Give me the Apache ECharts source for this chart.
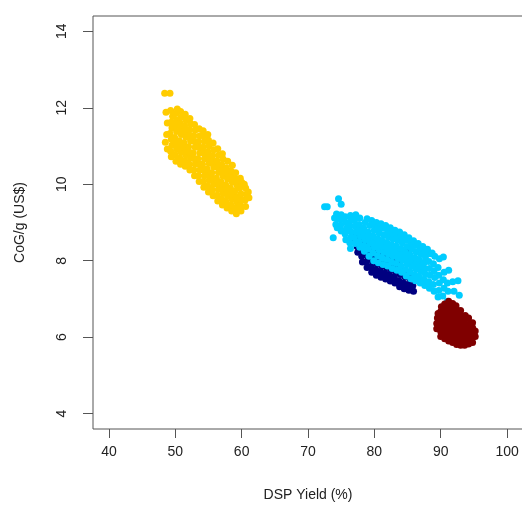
<!DOCTYPE html>
<html><head><meta charset="utf-8">
<script src="https://cdn.jsdelivr.net/npm/echarts@6/dist/echarts.min.js"></script>
<style>html,body{margin:0;padding:0;background:#fff;overflow:hidden}#c{width:532px;height:513px}</style>
</head><body><div id="c"></div>
<script>
const xTicks = [40, 50, 60, 70, 80, 90, 100];
const yTicks = [4, 6, 8, 10, 12, 14];
const xTitle = 'DSP Yield (%)';
const yTitle = 'CoG/g (US$)';

const yellowPts = [
[48.4,12.38],[49.2,12.38],
[48.6,11.88],[48.8,11.6],[48.7,11.3],[48.5,11.1],[48.8,10.92],
[49.4,10.72],[49.3,10.86],[49.5,11.02],[49.4,11.18],[49.2,11.33],[49.5,11.47],[49.4,11.62],[49.6,11.78],[49.3,11.93],
[50.1,10.6],[50.0,10.77],[50.2,10.92],[50.1,11.07],[49.9,11.22],[50.2,11.38],[50.0,11.53],[50.2,11.68],[50.1,11.85],[50.3,11.97],
[50.8,10.52],[50.7,10.68],[50.9,10.83],[50.8,10.99],[50.6,11.14],[50.9,11.3],[50.8,11.45],[50.7,11.6],[50.9,11.75],[50.8,11.9],
[51.5,10.47],[51.4,10.62],[51.6,10.77],[51.5,10.93],[51.3,11.08],[51.6,11.23],[51.5,11.38],[51.4,11.53],[51.6,11.68],[51.5,11.83],
[52.2,10.37],[52.1,10.52],[52.3,10.68],[52.2,10.83],[52.0,10.98],[52.3,11.13],[52.2,11.28],[52.1,11.43],[52.3,11.58],[52.2,11.72],
[52.9,10.22],[52.8,10.37],[53.0,10.52],[52.9,10.67],[52.7,10.82],[53.0,10.97],[52.9,11.12],[52.8,11.27],[53.0,11.42],[52.9,11.56],
[53.6,10.07],[53.5,10.22],[53.7,10.37],[53.6,10.52],[53.4,10.67],[53.7,10.82],[53.6,10.97],[53.5,11.12],[53.7,11.27],[53.6,11.45],
[54.3,9.92],[54.2,10.07],[54.4,10.22],[54.3,10.37],[54.1,10.52],[54.4,10.67],[54.3,10.82],[54.2,10.97],[54.4,11.12],[54.3,11.27],[54.2,11.4],
[55.0,9.8],[54.9,9.95],[55.1,10.1],[55.0,10.25],[54.8,10.4],[55.1,10.55],[55.0,10.7],[54.9,10.85],[55.1,11.0],[55.0,11.15],[54.9,11.3],
[55.7,9.7],[55.6,9.85],[55.8,10.0],[55.7,10.15],[55.5,10.3],[55.8,10.45],[55.7,10.6],[55.6,10.75],[55.8,10.9],[55.7,11.08],
[56.4,9.56],[56.3,9.71],[56.5,9.86],[56.4,10.01],[56.2,10.16],[56.5,10.31],[56.4,10.46],[56.3,10.61],[56.5,10.76],[56.4,10.93],
[57.1,9.46],[57.0,9.61],[57.2,9.76],[57.1,9.91],[56.9,10.06],[57.2,10.21],[57.1,10.36],[57.0,10.51],[57.2,10.66],[57.1,10.8],
[57.8,9.38],[57.7,9.53],[57.9,9.68],[57.8,9.83],[57.6,9.98],[57.9,10.13],[57.8,10.28],[57.7,10.43],[57.9,10.6],
[58.5,9.3],[58.4,9.45],[58.6,9.6],[58.5,9.75],[58.3,9.9],[58.6,10.05],[58.5,10.2],[58.4,10.35],[58.6,10.5],
[59.2,9.23],[59.1,9.38],[59.3,9.53],[59.2,9.68],[59.0,9.83],[59.3,9.98],[59.2,10.13],[59.1,10.3],
[59.9,9.3],[59.8,9.45],[60.0,9.6],[59.9,9.75],[59.7,9.9],[60.0,10.05],[59.8,10.16],
[60.6,9.42],[60.5,9.58],[60.7,9.74],[60.6,9.9],[60.4,10.0],
[61.1,9.65],[61.0,9.8]
];

const navyPts = [
[76.8,8.55],[76.9,8.7],
[77.5,8.22],[77.4,8.37],[77.6,8.52],[77.5,8.67],
[78.2,7.97],[78.1,8.12],[78.3,8.27],[78.2,8.42],[78.1,8.57],
[78.9,7.82],[78.8,7.97],[79.0,8.12],[78.9,8.27],[78.8,8.42],[79.0,8.57],
[79.6,7.7],[79.5,7.85],[79.7,8.0],[79.6,8.15],[79.5,8.3],[79.7,8.45],
[80.3,7.62],[80.2,7.77],[80.4,7.92],[80.3,8.07],[80.2,8.22],[80.4,8.4],
[81.0,7.57],[80.9,7.72],[81.1,7.87],[81.0,8.02],[80.9,8.17],[81.1,8.35],
[81.7,7.52],[81.6,7.67],[81.8,7.82],[81.7,7.97],[81.6,8.12],[81.8,8.3],
[82.4,7.47],[82.3,7.62],[82.5,7.77],[82.4,7.95],[82.3,8.1],
[83.1,7.42],[83.0,7.57],[83.2,7.72],[83.1,7.9],[83.0,8.05],
[83.8,7.32],[83.7,7.48],[83.9,7.64],[83.8,7.8],[83.7,8.0],
[84.5,7.27],[84.4,7.42],[84.6,7.58],[84.5,7.75],
[85.2,7.23],[85.1,7.38],[85.3,7.54],[85.1,8.29],
[85.9,7.2],[85.8,7.35]
];

const cyanPts = [
[72.5,9.41],[72.9,9.41],[73.8,8.6],[74.0,9.12],[74.4,8.86],[74.6,9.62],[75.0,9.48],
[74.2,8.95],[74.4,9.1],[74.3,9.22],
[75.0,8.78],[74.9,8.93],[75.1,9.08],[75.0,9.2],
[75.7,8.55],[75.6,8.7],[75.8,8.85],[75.7,9.0],[75.6,9.15],
[76.4,8.32],[76.3,8.47],[76.5,8.62],[76.4,8.77],[76.3,8.92],[76.5,9.07],[76.4,9.18],
[77.1,8.45],[77.0,8.6],[77.2,8.75],[77.1,8.9],[77.0,9.05],[77.2,9.2],
[77.8,8.35],[77.7,8.5],[77.9,8.65],[77.8,8.8],[77.7,8.95],[77.8,9.12],
[78.5,8.25],[78.4,8.4],[78.6,8.55],[78.5,8.7],[78.4,8.85],[78.6,9.0],[78.9,9.1],
[79.2,8.12],[79.1,8.3],[79.3,8.45],[79.2,8.6],[79.1,8.75],[79.3,8.92],[79.6,9.05],
[79.9,8.0],[79.8,8.2],[80.0,8.35],[79.9,8.5],[79.8,8.65],[80.0,8.8],[79.9,8.95],[80.3,9.0],
[80.6,7.95],[80.5,8.13],[80.7,8.28],[80.6,8.43],[80.5,8.58],[80.7,8.73],[80.6,8.88],[81.0,8.97],
[81.3,7.9],[81.2,8.07],[81.4,8.22],[81.3,8.37],[81.2,8.52],[81.4,8.67],[81.3,8.85],[81.7,8.92],
[82.0,7.86],[81.9,8.03],[82.1,8.18],[82.0,8.33],[81.9,8.48],[82.1,8.63],[82.0,8.78],[82.4,8.86],
[82.7,7.8],[82.6,7.97],[82.8,8.12],[82.7,8.27],[82.6,8.42],[82.8,8.57],[82.7,8.72],[83.1,8.8],
[83.4,7.75],[83.3,7.93],[83.5,8.08],[83.4,8.23],[83.3,8.38],[83.5,8.53],[83.4,8.68],[83.8,8.75],
[84.1,7.7],[84.0,7.87],[84.2,8.02],[84.1,8.17],[84.0,8.32],[84.2,8.47],[84.1,8.62],[84.5,8.68],
[84.8,7.6],[84.7,7.77],[84.9,7.92],[84.8,8.07],[84.7,8.22],[84.9,8.37],[84.8,8.54],[85.2,8.6],
[85.5,7.53],[85.4,7.7],[85.6,7.85],[85.5,8.0],[85.4,8.15],[85.6,8.3],[85.5,8.47],[85.9,8.52],
[86.2,7.48],[86.1,7.63],[86.3,7.78],[86.2,7.93],[86.1,8.08],[86.3,8.23],[86.2,8.4],[86.6,8.45],
[86.9,7.42],[86.8,7.57],[87.0,7.72],[86.9,7.87],[86.8,8.02],[87.0,8.17],[86.9,8.33],[87.3,8.37],
[87.6,7.35],[87.5,7.5],[87.7,7.65],[87.6,7.8],[87.5,7.95],[87.7,8.1],[87.6,8.25],[88.0,8.3],
[88.3,7.28],[88.2,7.45],[88.4,7.62],[88.3,7.8],[88.2,7.98],[88.4,8.18],[88.7,8.2],
[89.0,7.2],[88.9,7.38],[89.1,7.56],[89.0,7.74],[88.9,7.92],[89.1,8.12],
[89.6,7.05],[89.7,7.22],[89.8,7.42],[89.7,7.62],[89.6,7.82],[89.8,8.05],
[90.3,7.08],[90.5,7.28],[90.4,7.5],[90.5,7.7],[90.4,8.1],
[91.0,6.94],[91.1,7.2],[91.0,7.42],[91.2,7.75],
[91.8,7.45],[92.0,7.2],
[92.6,7.48],[92.8,7.1]
];

const redPts = [
[89.4,6.22],[89.4,6.36],[89.5,6.5],[89.6,6.62],
[90.0,6.02],[90.0,6.15],[90.1,6.28],[90.0,6.41],[90.1,6.54],[90.0,6.67],[90.1,6.8],
[90.6,5.96],[90.6,6.09],[90.7,6.22],[90.6,6.35],[90.7,6.48],[90.6,6.61],[90.7,6.74],[90.6,6.87],
[91.2,5.9],[91.2,6.03],[91.3,6.16],[91.2,6.29],[91.3,6.42],[91.2,6.55],[91.3,6.68],[91.2,6.81],[91.2,6.94],
[91.8,5.86],[91.8,5.99],[91.9,6.12],[91.8,6.25],[91.9,6.38],[91.8,6.51],[91.9,6.64],[91.8,6.77],[91.8,6.88],
[92.4,5.81],[92.4,5.94],[92.5,6.07],[92.4,6.2],[92.5,6.33],[92.4,6.46],[92.5,6.59],[92.4,6.72],[92.3,6.82],
[93.0,5.79],[93.0,5.92],[93.1,6.05],[93.0,6.18],[93.1,6.31],[93.0,6.44],[93.1,6.57],[93.0,6.7],
[93.6,5.79],[93.6,5.92],[93.7,6.05],[93.6,6.18],[93.7,6.31],[93.6,6.44],[93.7,6.57],
[94.2,5.82],[94.2,5.95],[94.3,6.08],[94.2,6.21],[94.3,6.34],[94.2,6.5],
[94.8,5.86],[94.8,5.99],[94.9,6.12],[94.8,6.25],[94.8,6.38],
[95.2,6.02],[95.2,6.16]
];

const chart = echarts.init(document.getElementById('c'), null, {renderer: 'canvas'});
const FONT = 'Liberation Sans, Arial, sans-serif';
function sc(data, color) {
  return {type: 'scatter', data: data, symbolSize: 7, silent: true, animation: false,
    itemStyle: {color: color, opacity: 1}, emphasis: {disabled: true}};
}
chart.setOption({
  animation: false,
  backgroundColor: '#fff',
  grid: {left: 93, right: 9, top: 16, bottom: 84, show: true, borderColor: '#555', borderWidth: 1, backgroundColor: 'transparent'},
  xAxis: {
    type: 'value', min: 37.6, max: 102.4,
    name: xTitle, nameLocation: 'middle', nameGap: 59,
    nameTextStyle: {fontFamily: FONT, fontSize: 14, color: '#222'},
    axisLine: {show: false}, splitLine: {show: false},
    axisTick: {show: true, customValues: xTicks, length: 9, inside: false, lineStyle: {color: '#555'}},
    axisLabel: {customValues: xTicks, margin: 16, fontFamily: FONT, fontSize: 14, color: '#222'}
  },
  yAxis: {
    type: 'value', min: 3.6, max: 14.4,
    name: yTitle, nameLocation: 'middle', nameGap: 66, nameRotate: 90,
    nameTextStyle: {fontFamily: FONT, fontSize: 14, color: '#222'},
    axisLine: {show: false}, splitLine: {show: false},
    axisTick: {show: true, customValues: yTicks, length: 10, inside: false, lineStyle: {color: '#555'}},
    axisLabel: {customValues: yTicks, rotate: 90, margin: 24, fontFamily: FONT, fontSize: 14, color: '#222'}
  },
  series: [sc(yellowPts, '#FFCC00'), sc(navyPts, '#000080'), sc(cyanPts, '#00CCFF'), sc(redPts, '#800000')]
});
</script></body></html>
